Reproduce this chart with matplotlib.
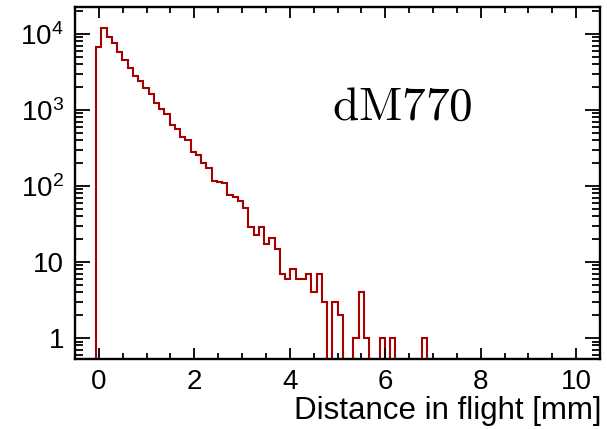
import numpy as np
import matplotlib
matplotlib.use("Agg")
import matplotlib.pyplot as plt
from matplotlib.ticker import MultipleLocator, LogLocator, FixedLocator, FixedFormatter, NullFormatter

# ---- data ----
bin_lo, bin_hi, n_bins = -0.5, 10.5, 100
counts = [0, 0, 0, 0, 6800, 12000, 9200, 7500, 5700, 4550,
          3600, 2800, 2400, 1930, 1600, 1250, 1020, 880, 640, 565,
          445, 403, 283, 256, 199, 171, 116, 112, 109, 75,
          72, 64, 52, 29, 23, 29, 17, 21, 15, 7,
          6, 8, 6, 6, 7, 4, 7, 3, 0, 3,
          2, 0, 0, 1, 4, 1, 0, 0, 1, 0,
          1, 0, 0, 0, 0, 0, 1, 0, 0, 0] + [0] * 30
y_tick_vals = [1, 10, 100, 1000, 10000]
y_tick_labels = ["1", "10", "$10^{2}$", "$10^{3}$", "$10^{4}$"]
x_tick_vals = [0, 2, 4, 6, 8, 10]
x_tick_labels = ["0", "2", "4", "6", "8", "10"]
x_label = "Distance in flight [mm]"
tag = r"$\mathrm{dM770}$"

ymin, ymax = 0.53, 2.26e4

plt.rcParams['font.family'] = ['Liberation Sans', 'DejaVu Sans']
plt.rcParams['mathtext.fontset'] = 'custom'
plt.rcParams['mathtext.rm'] = 'Liberation Sans'
plt.rcParams['mathtext.it'] = 'Liberation Sans'
plt.rcParams['mathtext.default'] = 'regular'

fig = plt.figure(figsize=(6.07, 4.29), dpi=100)
ax = fig.add_axes([75 / 607, 1 - 359 / 429, 525 / 607, 352 / 429])

edges = np.linspace(bin_lo, bin_hi, n_bins + 1)
vals = np.array(counts, dtype=float)
vals = np.where(vals > 0, vals, ymin)
ax.stairs(vals, edges, baseline=None, color='#a80000', linewidth=1.5)

ax.set_yscale('log')
ax.set_xlim(bin_lo, bin_hi)
ax.set_ylim(ymin, ymax)

ax.xaxis.set_major_locator(FixedLocator(x_tick_vals))
ax.xaxis.set_major_formatter(FixedFormatter(x_tick_labels))
ax.xaxis.set_minor_locator(MultipleLocator(0.5))
ax.yaxis.set_major_locator(FixedLocator(y_tick_vals))
ax.yaxis.set_major_formatter(FixedFormatter(y_tick_labels))
ax.yaxis.set_minor_locator(LogLocator(base=10, subs=np.arange(2, 10), numticks=20))
ax.yaxis.set_minor_formatter(NullFormatter())

for s in ax.spines.values():
    s.set_linewidth(1.7)

ax.tick_params(which='both', direction='in', top=True, right=True, width=1.3, colors='black')
ax.tick_params(axis='x', which='major', length=8, labelsize=20, pad=7)
ax.tick_params(axis='x', which='minor', length=4.5)
ax.tick_params(axis='y', which='major', length=11, labelsize=20, pad=8)
ax.tick_params(axis='y', which='minor', length=6)

fig.text(601 / 607, 1 - 419 / 429, x_label, fontsize=22.5, ha='right', va='baseline')

ax.text(0.49, 0.68, tag, transform=ax.transAxes, fontsize=34,
        math_fontfamily='cm', ha='left', va='baseline')

fig.savefig('out.png', dpi=100)
